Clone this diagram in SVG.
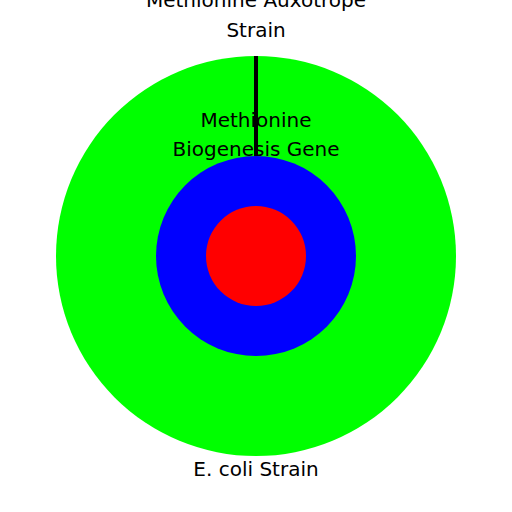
<svg xmlns="http://www.w3.org/2000/svg" width="512" height="512" viewBox="0 0 512 512">
<style>
text{font-family:"DejaVu Sans","Liberation Sans",sans-serif;font-size:20px;fill:#000;text-anchor:middle}
</style>
<rect width="512" height="512" fill="#fff"/>
<g id="ecoli"><circle cx="256" cy="256" r="200" fill="#00ff00"/></g>
<g id="auxotrope"><circle cx="256" cy="256" r="100" fill="#0000ff"/></g>
<g id="gene"><circle cx="256" cy="256" r="50" fill="#ff0000"/></g>
<g id="connectors"><line x1="256" y1="56" x2="256" y2="156" stroke="#000" stroke-width="4"/></g>
<g id="labels">
<text x="256" y="7">Methionine Auxotrope</text>
<text x="256" y="37">Strain</text>
<text x="256" y="127">Methionine</text>
<text x="256" y="156">Biogenesis Gene</text>
<text x="256" y="476">E. coli Strain</text>
</g>
</svg>
